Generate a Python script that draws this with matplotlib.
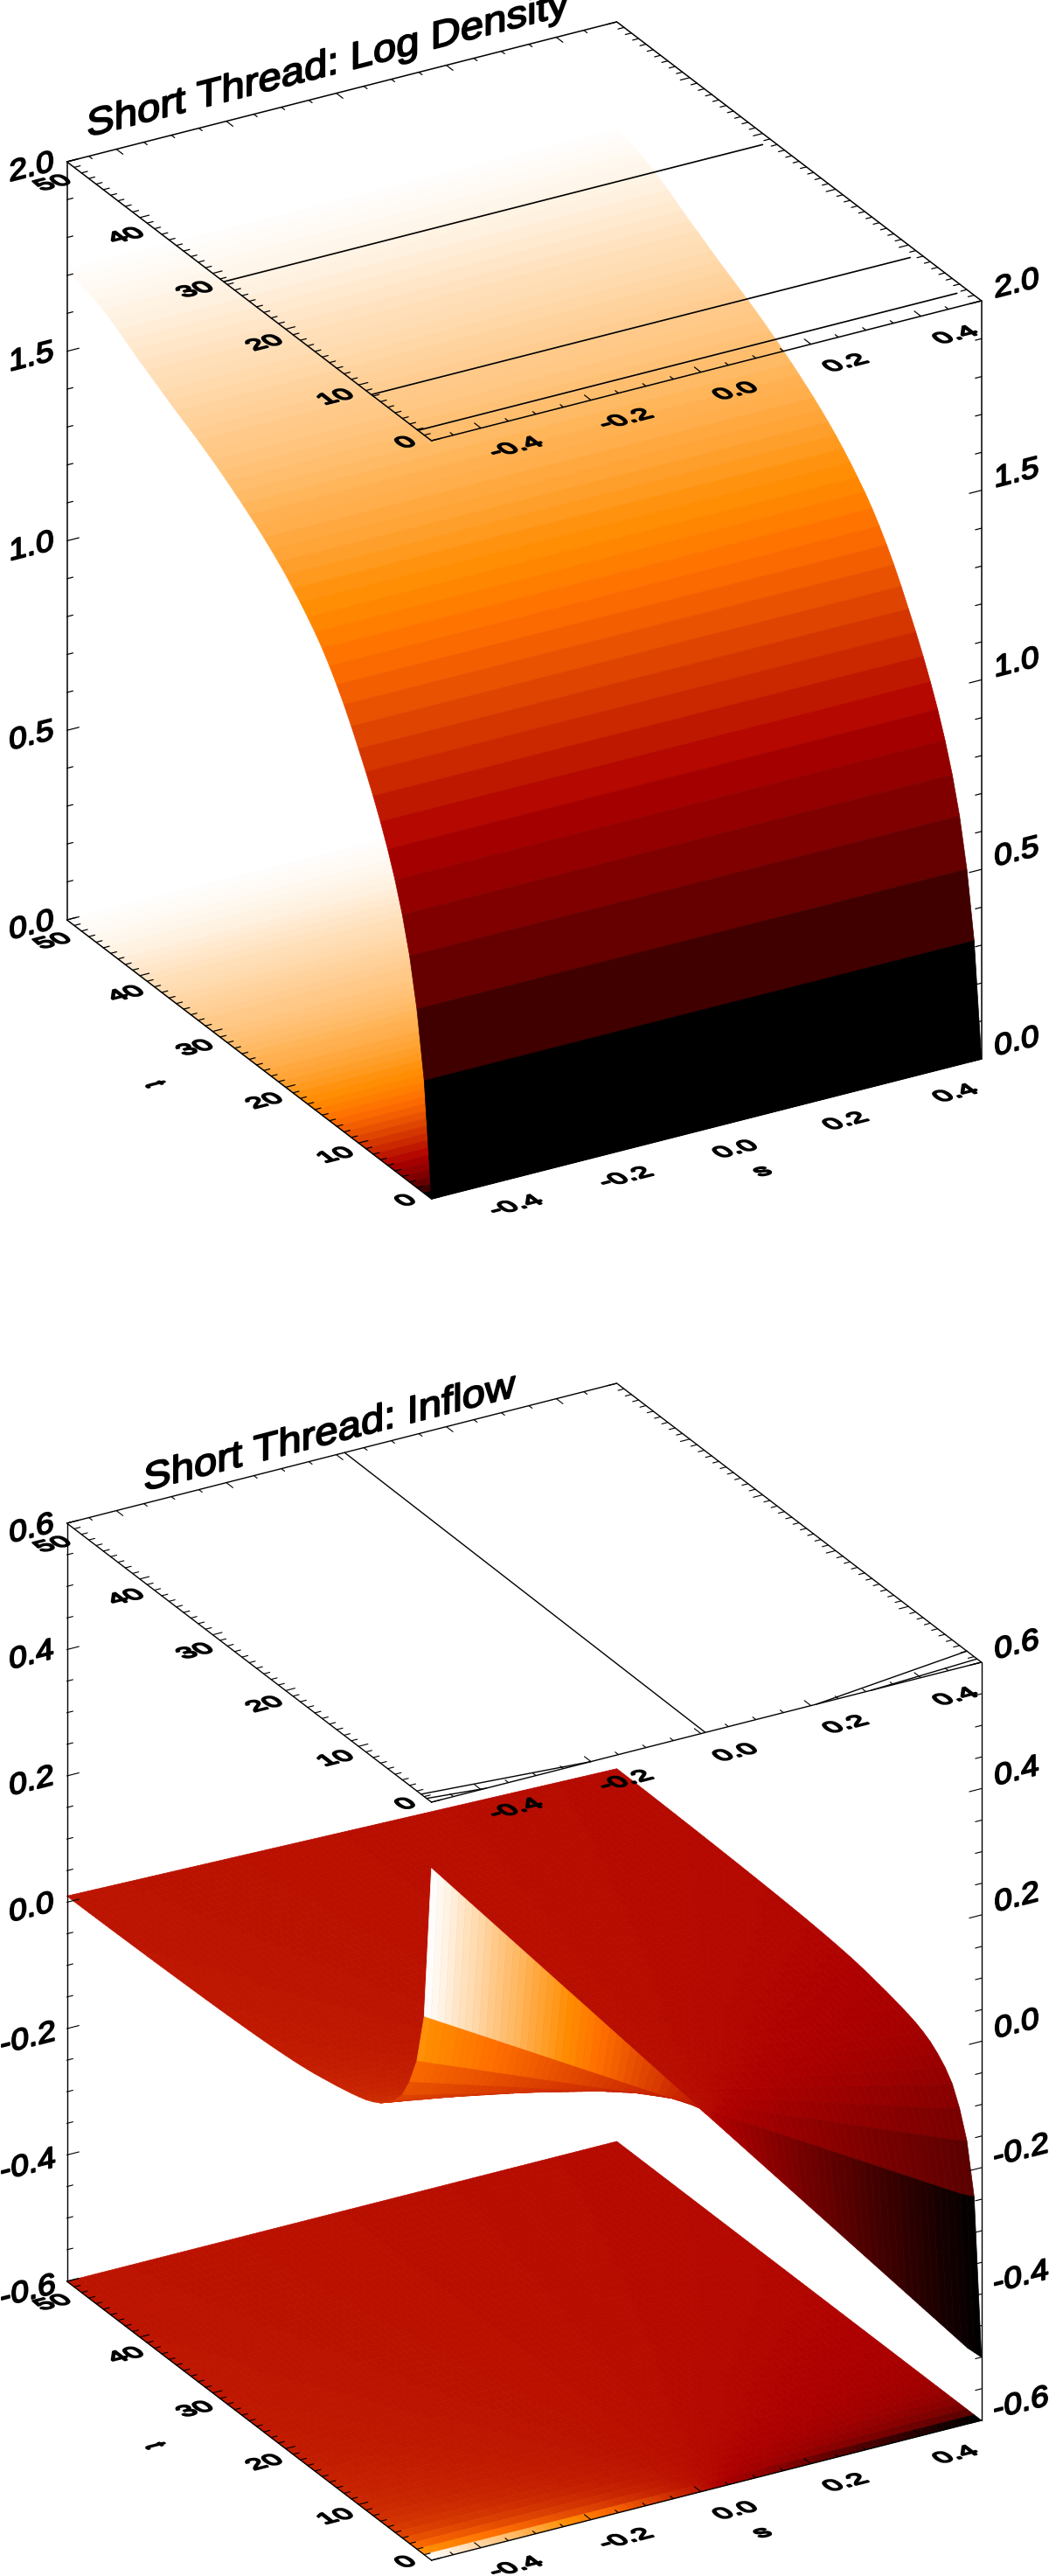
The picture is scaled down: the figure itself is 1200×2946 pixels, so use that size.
import numpy as np
import matplotlib
matplotlib.use("Agg")
import matplotlib.pyplot as plt
from matplotlib.collections import PolyCollection
from matplotlib.colors import LinearSegmentedColormap, Normalize
from matplotlib.patheffects import AbstractPathEffect
from matplotlib.transforms import Affine2D

# ---------- data ----------
time_steps = list(range(51))
log_density = [0.00, 0.297, 0.471, 0.597, 0.691, 0.768, 0.834, 0.892, 0.945, 0.994,
               1.04, 1.085, 1.127, 1.165, 1.20, 1.232, 1.26, 1.285, 1.309, 1.331,
               1.352, 1.371, 1.389, 1.406, 1.422, 1.437, 1.452, 1.466, 1.48, 1.493,
               1.506, 1.518, 1.53, 1.541, 1.552, 1.563, 1.574, 1.586, 1.598, 1.61,
               1.621, 1.634, 1.647, 1.66, 1.672, 1.683, 1.692, 1.699, 1.705, 1.71, 1.715]
density_s = [-0.49, 0.51]
density_contour_t = [1.85, 8.26, 28.5]
density_contour_s = [-0.49, 0.49]

inflow_s = [-0.49, -0.4775, -0.465, -0.4525, -0.44, -0.4275, -0.415, -0.4025, -0.39, -0.3775,
            -0.365, -0.3525, -0.34, -0.3275, -0.315, -0.3025, -0.29, -0.2775, -0.265, -0.2525,
            -0.24, -0.2275, -0.215, -0.2025, -0.19, -0.1775, -0.165, -0.1525, -0.14, -0.1275,
            -0.115, -0.1025, -0.09, -0.0775, -0.065, -0.0525, -0.04, -0.0275, -0.015, -0.0025,
            0.01, 0.0225, 0.035, 0.0475, 0.06, 0.0725, 0.085, 0.0975, 0.11, 0.1225,
            0.135, 0.1475, 0.16, 0.1725, 0.185, 0.1975, 0.21, 0.2225, 0.235, 0.2475,
            0.26, 0.2725, 0.285, 0.2975, 0.31, 0.3225, 0.335, 0.3475, 0.36, 0.3725,
            0.385, 0.3975, 0.41, 0.4225, 0.435, 0.4475, 0.46, 0.4725, 0.485, 0.4975, 0.51]
inflow_start = [0.495, 0.4825, 0.47, 0.4575, 0.445, 0.4325, 0.42, 0.4075, 0.395, 0.3825,
                0.37, 0.3575, 0.345, 0.3325, 0.32, 0.3075, 0.295, 0.2825, 0.27, 0.2575,
                0.245, 0.2325, 0.22, 0.2075, 0.195, 0.1825, 0.17, 0.1575, 0.145, 0.1325,
                0.12, 0.1075, 0.095, 0.0825, 0.07, 0.0575, 0.045, 0.0325, 0.02, 0.0075,
                -0.005, -0.0175, -0.03, -0.0425, -0.055, -0.0675, -0.08, -0.0925, -0.105, -0.1175,
                -0.13, -0.1425, -0.155, -0.1675, -0.18, -0.1925, -0.205, -0.2175, -0.23, -0.2425,
                -0.255, -0.2675, -0.28, -0.2925, -0.305, -0.3175, -0.33, -0.3425, -0.355, -0.3675,
                -0.38, -0.3925, -0.405, -0.4175, -0.43, -0.4425, -0.455, -0.4675, -0.48, -0.49, -0.5]
inflow_decay = [1.0, 0.51, 0.35, 0.265, 0.205, 0.17, 0.145, 0.125, 0.111, 0.10,
                0.092, 0.085, 0.079, 0.073, 0.068, 0.063, 0.058, 0.054, 0.0505, 0.0475,
                0.045, 0.0428, 0.0408, 0.039, 0.0374, 0.036, 0.0347, 0.0335, 0.0324, 0.0314,
                0.0305, 0.0296, 0.0288, 0.028, 0.0273, 0.0266, 0.0259, 0.0253, 0.0247, 0.0241,
                0.0236, 0.0231, 0.0226, 0.0221, 0.0217, 0.0213, 0.0209, 0.0206, 0.0203, 0.0201, 0.02]
inflow_contours = [[(-0.49, 0.67), (-0.39, 0.0)],
                   [(-0.49, 1.43), (-0.20, 0.0)],
                   [(0.015, 50.0), (0.008, 0.0)],
                   [(0.21, 0.0), (0.51, 2.0)],
                   [(0.31, 0.0), (0.51, 0.6)]]

t_labels = ["0", "10", "20", "30", "40", "50"]
t_label_vals = [0, 10, 20, 30, 40, 50]
s_label_vals = [-0.4, -0.2, 0.0, 0.2, 0.4]
s_labels = ["-0.4", "-0.2", "0.0", "0.2", "0.4"]
density_z_vals = [0.0, 0.5, 1.0, 1.5, 2.0]
density_z_labels = ["0.0", "0.5", "1.0", "1.5", "2.0"]
inflow_z_vals = [-0.6, -0.4, -0.2, 0.0, 0.2, 0.4, 0.6]
inflow_z_labels = ["-0.6", "-0.4", "-0.2", "0.0", "0.2", "0.4", "0.6"]

# ---------- colour table (red temperature) ----------
ramp_pos = [0, 120 / 255, 176 / 255, 190 / 255, 1]
ramp_rgb = [(0, 0, 0), (174 / 255, 0, 0), (1, 112 / 255, 0), (1, 140 / 255, 0), (1, 1, 1)]
red_temp = LinearSegmentedColormap.from_list("red_temp", list(zip(ramp_pos, ramp_rgb)), N=256)


# ---------- sheared text (the IDL axes write text in 3-D planes) ----------
class Sheared(AbstractPathEffect):
    def __init__(self, xb, yb, stroke=0.0):
        super().__init__()
        self.xb, self.yb, self.stroke = xb, yb, stroke

    def draw_path(self, renderer, gc, tpath, affine, rgbFace=None):
        m = affine.get_matrix()
        k, X, Y = m[0, 0], m[0, 2], m[1, 2]
        e = tpath.get_extents()
        cx, cy = (e.x0 + e.x1) / 2, (e.y0 + e.y1) / 2
        a, b = self.xb
        c, d = self.yb
        mat = np.array([[a * k, c * k, X + k * cx - k * (a * cx + c * cy)],
                        [b * k, d * k, Y + k * cy - k * (b * cx + d * cy)],
                        [0, 0, 1.0]])
        g = renderer.new_gc()
        g.copy_properties(gc)
        g.set_linewidth(self.stroke)
        g.set_foreground("black")
        renderer.draw_path(g, tpath, Affine2D(mat), (0, 0, 0, 1))
        g.restore()


SDIR = (0.969, 0.2465)
TDIR = (-0.794, 0.607)
FONT = "Liberation Sans"
FX_Z = Sheared(SDIR, (0, 0.90), 1.3)
FX_TITLE = Sheared(SDIR, (0, 0.90), 1.3)
FX_FLOOR = Sheared(SDIR, (0.72 * TDIR[0], 0.72 * TDIR[1]), 1.4)
FX_T = Sheared((-0.6 * TDIR[0], -0.6 * TDIR[1]), SDIR, 1.4)


def label(ax, x, y, txt, px, fx, fix=0.09):
    ax.text(x, y + fix * px, txt, fontsize=px * 0.72, family=FONT, ha="center", va="center",
            color="black", path_effects=[fx], zorder=10)


# ---------- projection of the box ----------
S0, S1 = -0.49, 0.51
SV = (629.1, -160.0)
TV = (-417.1, -319.0)
ZH = -867.0
X0 = 493.6


def make_proj(y0, zlo, zhi):
    def proj(s, t, z):
        u = (np.asarray(s, float) - S0) / (S1 - S0)
        v = np.asarray(t, float) / 50.0
        w = (np.asarray(z, float) - zlo) / (zhi - zlo)
        return X0 + u * SV[0] + v * TV[0], y0 + u * SV[1] + v * TV[1] + w * ZH
    return proj


def cells(ax, proj, s, t, height, colour, norm, zorder):
    verts, cols = [], []
    for k in range(len(t) - 2, -1, -1):
        for j in range(len(s) - 1):
            ss = [s[j], s[j + 1], s[j + 1], s[j]]
            tt = [t[k], t[k], t[k + 1], t[k + 1]]
            hh = [height[k][j], height[k][j + 1], height[k + 1][j + 1], height[k + 1][j]]
            x, y = proj(ss, tt, hh)
            verts.append(np.column_stack([x, y]))
            cols.append(red_temp(norm(colour[k][j])))
    ax.add_collection(PolyCollection(verts, facecolors=cols, edgecolors=cols,
                                     linewidths=0.5, zorder=zorder))


def line3(ax, proj, s, t, z, lw):
    x, y = proj(s, t, z)
    ax.plot(x, y, color="black", lw=lw, solid_capstyle="round", zorder=6)


def frame(ax, proj, zlo, zhi, z_minor, z_major, lw):
    line3(ax, proj, [S0, S1, S1, S0, S0], [0, 0, 50, 50, 0], [zhi] * 5, lw)
    line3(ax, proj, [S0, S0], [50, 50], [zlo, zhi], lw)
    line3(ax, proj, [S1, S1], [0, 0], [zlo, zhi], lw)
    line3(ax, proj, [S0, S0], [0, 50], [zlo, zlo], lw)
    line3(ax, proj, [S0, S1], [0, 0], [zlo, zlo], lw)
    # t ticks
    for t in np.arange(0, 51, 1):
        d = 0.017 if t % 10 == 0 else 0.011
        for z in (zlo, zhi):
            line3(ax, proj, [S0, S0 + d], [t, t], [z, z], lw * 0.8)
        line3(ax, proj, [S1, S1 - d], [t, t], [zhi, zhi], lw * 0.8)
    # s ticks
    for i in range(0, 19):
        s = -0.45 + 0.05 * i
        d = 0.9 if i % 4 == 1 else 0.45
        for z in (zlo, zhi):
            line3(ax, proj, [s, s], [0, d], [z, z], lw * 0.8)
        line3(ax, proj, [s, s], [50, 50 - d], [zhi, zhi], lw * 0.8)
    # z ticks
    n = int(round((zhi - zlo) / z_minor))
    for i in range(n + 1):
        z = zlo + i * z_minor
        d = 0.022 if abs(z / z_major - round(z / z_major)) < 1e-6 else 0.011
        line3(ax, proj, [S0, S0 + d], [50, 50], [z, z], lw * 0.8)
        line3(ax, proj, [S1, S1 - d], [0, 0], [z, z], lw * 0.8)


T_OFF = {0: (-30.6, 1.4), 10: (-27.5, 13), 20: (-25, 15), 30: (-21, 18), 40: (-17, 20), 50: (-17, 23.5)}


def labels(ax, proj, zlo, zhi, zvals, zlabs):
    for z, txt in zip(zvals, zlabs):
        neg = txt.startswith("-")
        x, y = proj(S0, 50, z)
        label(ax, 32 if neg else 36, y + (9 if neg else 4), txt, 38, FX_Z)
        x, y = proj(S1, 0, z)
        label(ax, 1168 if neg else 1163, y - 22, txt, 38, FX_Z)
    for zz in (zlo, zhi):
        for tv, txt in zip(t_label_vals, t_labels):
            x, y = proj(S0, tv, zz)
            label(ax, x + T_OFF[tv][0], y + T_OFF[tv][1], txt, 34, FX_FLOOR)
        for sv, txt in zip(s_label_vals, s_labels):
            x, y = proj(sv, 0, zz)
            label(ax, x + 38.5, y + 21, txt, 34, FX_FLOOR)
    x, y = proj(S0, 0, zlo)
    label(ax, x + 378.5, y - 31, "s", 34, FX_FLOOR, fix=0.0)
    label(ax, x - 316, y - 132, "t", 34, FX_T)


fig = plt.figure(figsize=(12, 29.46), dpi=100)
ax = fig.add_axes([0, 0, 1, 1])
ax.set_xlim(0, 1200)
ax.set_ylim(2946, 0)
ax.axis("off")

# ---------- Panel 1: log density ----------
p1 = make_proj(1371.0, 0.0, 2.0)
dens = np.tile(np.asarray(log_density)[:, None], (1, len(density_s)))
n1 = Normalize(0.0, 1.72)
cells(ax, p1, density_s, time_steps, np.zeros_like(dens), dens, n1, 1)
cells(ax, p1, density_s, time_steps, dens, dens, n1, 2)
for tc in density_contour_t:
    line3(ax, p1, density_contour_s, [tc, tc], [2.0, 2.0], 1.2)
frame(ax, p1, 0.0, 2.0, 0.1, 0.5, 1.1)
labels(ax, p1, 0.0, 2.0, density_z_vals, density_z_labels)
label(ax, 374, 75, "Short Thread: Log Density", 48.8, FX_TITLE, fix=0.0)

# ---------- Panel 2: inflow ----------
p2 = make_proj(2928.0, -0.6, 0.6)
infl = np.outer(inflow_decay, inflow_start)
n2 = Normalize(-0.5, 0.5)
cells(ax, p2, inflow_s, time_steps, np.full_like(infl, -0.6), infl, n2, 1)
cells(ax, p2, inflow_s, time_steps, infl, infl, n2, 2)
for c in inflow_contours:
    line3(ax, p2, [c[0][0], c[1][0]], [c[0][1], c[1][1]], [0.6, 0.6], 1.0)
frame(ax, p2, -0.6, 0.6, 0.05, 0.2, 1.0)
labels(ax, p2, -0.6, 0.6, inflow_z_vals, inflow_z_labels)
label(ax, 376, 1640, "Short Thread: Inflow", 48.8, FX_TITLE, fix=0.0)

fig.savefig("out.png", dpi=100, facecolor="white")
